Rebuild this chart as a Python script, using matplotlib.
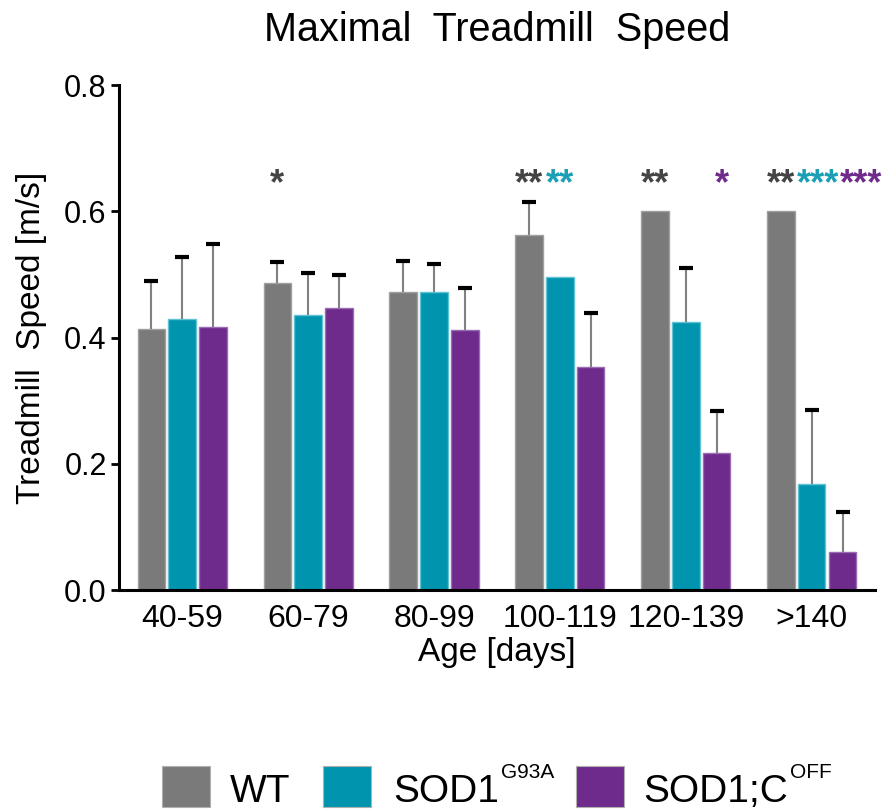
import numpy as np
import matplotlib
matplotlib.use('Agg')
import matplotlib.pyplot as plt
from matplotlib.patches import Rectangle

plt.rcParams['font.family'] = ['Liberation Sans', 'DejaVu Sans']

# data
ages = ['40-59', '60-79', '80-99', '100-119', '120-139', '>140']
wt = [0.414, 0.487, 0.472, 0.562, 0.600, 0.600]
wt_err = [0.075, 0.032, 0.050, 0.053, 0.0, 0.0]
sod1 = [0.430, 0.435, 0.473, 0.496, 0.425, 0.168]
sod1_err = [0.097, 0.067, 0.044, 0.0, 0.085, 0.117]
coff = [0.417, 0.447, 0.412, 0.354, 0.217, 0.061]
coff_err = [0.131, 0.052, 0.066, 0.085, 0.066, 0.062]
yticks = [0.0, 0.2, 0.4, 0.6, 0.8]

gray, teal, purple = '#7a7a7a', '#0094ae', '#6e2b8b'
star_gray, star_teal, star_purple = '#444444', '#1a9fb5', '#6e2b8b'

fig = plt.figure(figsize=(8.89, 8.11), dpi=100)
ax = fig.add_axes([0.134, 0.2725, 0.850, 0.6225])

x = np.arange(len(ages))
step = 0.245
width = 0.217
series = [(wt, wt_err, gray, '#a0a0a0'),
          (sod1, sod1_err, teal, '#5fc3d3'),
          (coff, coff_err, purple, '#9b6bb3')]
for i, (vals, errs, col, edge) in enumerate(series):
    xs = x + (i - 1) * step
    vals = np.array(vals)
    errs = np.array(errs)
    ax.bar(xs, vals, width, color=col, edgecolor=edge, linewidth=1, zorder=2)
    has = errs > 0
    ax.vlines(xs[has], vals[has], vals[has] + errs[has], color='#808080', lw=1.5, zorder=3)
    ax.plot(xs[has], vals[has] + errs[has], ls='none', marker='_', ms=10, mew=3,
            color='black', zorder=4)

# significance stars
sy = 0.628
sfs = 26
sfont = dict(fontsize=sfs, va='baseline', fontweight='bold')
ax.text(1 - step, sy, '*', color=star_gray, ha='center', **sfont)
t = ax.text(3 - step, sy, '**', color=star_gray, ha='center', **sfont)
ax.annotate('**', xy=(1, 0), xycoords=t, xytext=(3, 0), textcoords='offset pixels',
            ha='left', va='bottom', color=star_teal, fontsize=sfs, fontweight='bold')
ax.text(4 - step, sy, '**', color=star_gray, ha='center', **sfont)
ax.text(4 + step + 0.04, sy, '*', color=star_purple, ha='center', **sfont)
t = ax.text(5 - step, sy, '**', color=star_gray, ha='center', **sfont)
t = ax.annotate('***', xy=(1, 0), xycoords=t, xytext=(2, 0), textcoords='offset pixels',
                ha='left', va='bottom', color=star_teal, fontsize=sfs, fontweight='bold')
ax.annotate('***', xy=(1, 0), xycoords=t, ha='left', va='bottom',
            color=star_purple, fontsize=sfs, fontweight='bold', annotation_clip=False)

ax.set_xlim(-0.5, 5.5)
ax.set_ylim(0, 0.8)
ax.set_yticks(yticks)
ax.set_yticklabels([f'{v:.1f}' for v in yticks])
ax.set_xticks(x)
ax.set_xticklabels(ages)
ax.tick_params(axis='y', labelsize=22, length=6, width=2, pad=3)
ax.tick_params(axis='x', labelsize=23, length=0, pad=10)
for s in ['top', 'right']:
    ax.spines[s].set_visible(False)
for s in ['left', 'bottom']:
    ax.spines[s].set_linewidth(2.2)
ax.set_ylabel('Treadmill  Speed [m/s]', fontsize=24, labelpad=12)
ax.set_xlabel('Age [days]', fontsize=24, labelpad=2)
ax.set_title('Maximal  Treadmill  Speed', fontsize=28.5, pad=32)

# legend at the bottom
W, H = 889, 811
names = [('WT', None), ('SOD1', 'G93A'), ('SOD1;C', 'OFF')]
cols = [gray, teal, purple]
box_x = [162, 323, 576]
txt_x = [230, 393, 643]
for (name, sup), col, bx, tx in zip(names, cols, box_x, txt_x):
    fig.add_artist(Rectangle((bx / W, 4 / H), 48 / W, 41 / H, transform=fig.transFigure,
                             facecolor=col, edgecolor='#b0b0b0', lw=0.8))
    mt = fig.text(tx / W, 9 / H, name, fontsize=28, va='baseline', ha='left')
    if sup:
        ax.annotate(sup, xy=(1, 1), xycoords=mt, xytext=(2, 2), textcoords='offset pixels',
                    ha='left', va='center', fontsize=15, annotation_clip=False)

fig.savefig('out.png', dpi=100)
